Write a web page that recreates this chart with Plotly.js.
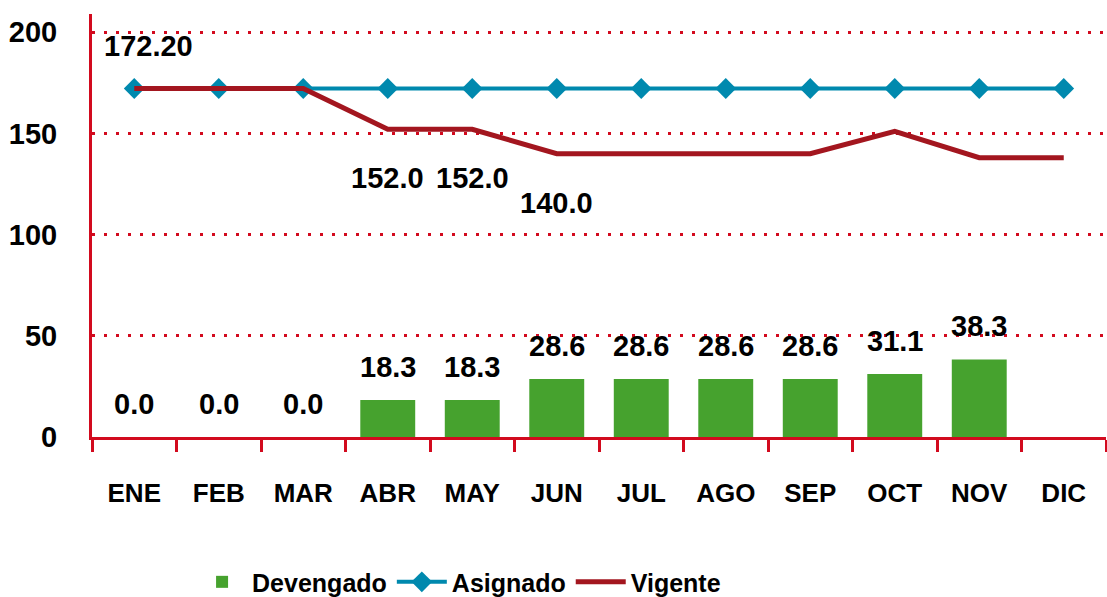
<!DOCTYPE html>
<html>
<head>
<meta charset="utf-8">
<script src="https://cdn.plot.ly/plotly-3.0.1.min.js"></script>
<style>html,body{margin:0;padding:0;background:#fff;}#chart{width:1107px;height:597px;}</style>
</head>
<body>
<div id="chart"></div>
<script>
const months = ['ENE','FEB','MAR','ABR','MAY','JUN','JUL','AGO','SEP','OCT','NOV','DIC'];
const devengado = [0.0, 0.0, 0.0, 18.3, 18.3, 28.6, 28.6, 28.6, 28.6, 31.1, 38.3, null];
const asignado = [172.2,172.2,172.2,172.2,172.2,172.2,172.2,172.2,172.2,172.2,172.2,172.2];
const vigente = [172.2,172.2,172.2,152.0,152.0,140.0,140.0,140.0,140.0,151.0,138.0,138.0];
const vigenteLabels = ['', '', '', '152.0', '152.0', '140.0', '', '', '', '', '', ''];
const asignadoLabels = ['172.20', '', '', '', '', '', '', '', '', '', '', ''];

const FONT = 'Liberation Sans, Arial, sans-serif';
const RED = '#D20A1E';

const traces = [
  {type:'bar', name:'Devengado', x:months, y:devengado, marker:{color:'#46A22E'}, width:0.65, hoverinfo:'none'},
  {type:'scatter', mode:'lines+markers', name:'Asignado', x:months, y:asignado,
   line:{color:'#0089AE', width:4}, marker:{symbol:'diamond', size:16, color:'#0089AE'}},
  {type:'scatter', mode:'lines', name:'Vigente', x:months, y:vigente,
   line:{color:'#A3161F', width:5}}
];

const annotations = [];
devengado.forEach((v,i)=>{
  if (v === null) return;
  annotations.push({x:months[i], y:v, text:'<b>'+v.toFixed(1)+'</b>', showarrow:false,
    yanchor:'middle', yshift:33, font:{family:FONT, size:29, color:'#000'}});
});
vigenteLabels.forEach((t,i)=>{
  if (!t) return;
  annotations.push({x:months[i], y:vigente[i], text:'<b>'+t+'</b>', showarrow:false,
    yanchor:'middle', yshift:-49, font:{family:FONT, size:29, color:'#000'}});
});
asignadoLabels.forEach((t,i)=>{
  if (!t) return;
  annotations.push({x:months[i], y:asignado[i], text:'<b>'+t+'</b>', showarrow:false,
    yanchor:'middle', yshift:42, xshift:14, font:{family:FONT, size:29, color:'#000'}});
});

const layout = {
  width:1107, height:597,
  margin:{l:92, r:1, t:14, b:160, autoexpand:false},
  paper_bgcolor:'#fff', plot_bgcolor:'#fff',
  font:{family:FONT, color:'#000'},
  showlegend:true,
  legend:{orientation:'h', x:0.362, xanchor:'center', y:-0.343, yanchor:'middle',
    font:{family:FONT, size:25, color:'#000', weight:'bold'}, traceorder:'normal', itemwidth:50},
  xaxis:{type:'category', range:[-0.5, 11.5], showline:true, linecolor:RED, linewidth:3,
    ticks:'outside', tickson:'boundaries', ticklen:12, tickwidth:3, tickcolor:RED,
    showgrid:false, ticklabelstandoff:31,
    tickfont:{family:FONT, size:26, color:'#000', weight:'bold'}},
  yaxis:{range:[0, 209], tickvals:[0,50,100,150,200], showline:true, linecolor:RED, linewidth:3,
    showgrid:true, gridcolor:RED, gridwidth:3, griddash:'3px,9px', zeroline:false,
    ticks:'', ticklabelstandoff:26,
    tickfont:{family:FONT, size:29, color:'#000', weight:'bold'}},
  annotations:annotations,
  bargap:0.35
};

Plotly.newPlot('chart', traces, layout, {displayModeBar:false, staticPlot:true});
</script>
</body>
</html>
